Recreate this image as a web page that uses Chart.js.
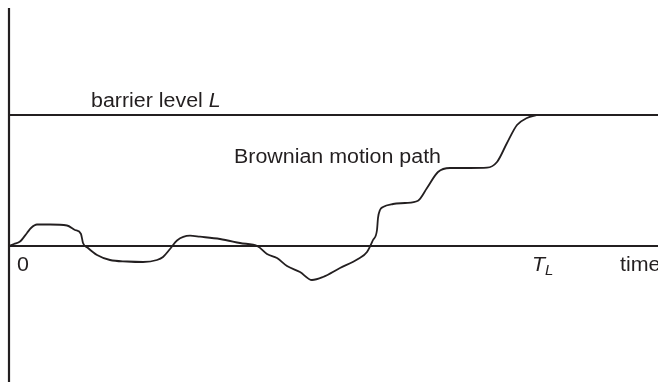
<!DOCTYPE html>
<html>
<head>
<meta charset="utf-8">
<script src="https://cdn.jsdelivr.net/npm/chart.js@4"></script>
<style>
  html, body { margin: 0; padding: 0; background: #fff; }
  canvas { display: block; }
</style>
</head>
<body>
<canvas id="c" width="658" height="382"></canvas>
<script>
// Sample path of a Brownian motion started at 0, stopped when it first hits the barrier L
const pathTime = [0, 5, 11, 18, 22, 28, 41, 58, 66, 72, 74, 79, 88, 101, 118, 134, 148, 154, 161, 168,
  181, 191, 211, 231, 249, 258, 268, 278, 291, 303, 314, 331, 349, 358, 364, 368, 369, 371, 374, 384,
  396, 409, 418, 429, 441, 461, 478, 488, 498, 508, 518, 528];
const pathValue = [0, 2, 4.5, 13, 18, 21.5, 21.5, 20.5, 16, 12, 3, -2, -9, -14, -15.5, -16, -14, -11, -3, 5.5,
  10.3, 9.3, 7, 3, -0.5, -8, -12, -20, -26, -34, -31, -22, -13, -6, 6, 16, 28, 36, 39, 42,
  43, 45.3, 58, 74, 78, 78, 78.3, 84, 103, 121, 128, 131];
const barrierLevel = 131;
const hittingTime = 528;   // T_L
const timeRange = [-9, 649];
const valueRange = [-136, 246];
const timeLabel = 'time';
const originLabel = '0';

const ink = '#231f20';
const FONT = '"Liberation Sans", Arial, Helvetica, sans-serif';
const STRETCH = 1.07;   // slightly wide lettering

const pathPoints = pathTime.map((t, i) => ({ x: t, y: pathValue[i] }));
const barrierPoints = [{ x: 0, y: barrierLevel }, { x: timeRange[1], y: barrierLevel }];

// Draws a run of [text, font, dy] pieces starting at (x, y)
function drawRuns(ctx, runs, x, y) {
  ctx.save();
  ctx.translate(x, y);
  ctx.scale(STRETCH, 1);
  let cx = 0;
  for (const [txt, font, dy] of runs) {
    ctx.font = font;
    ctx.fillText(txt, cx, dy || 0);
    cx += ctx.measureText(txt).width;
  }
  ctx.restore();
}

// Axes through the origin and the annotation texts
const annotate = {
  id: 'annotate',
  beforeDatasetsDraw(chart) {
    const { ctx, scales: { x, y } } = chart;
    const x0 = x.getPixelForValue(0);
    const y0 = y.getPixelForValue(0);
    ctx.save();
    ctx.strokeStyle = ink;
    ctx.lineWidth = 2.2;
    ctx.beginPath();
    ctx.moveTo(x0, 8);
    ctx.lineTo(x0, chart.height);
    ctx.moveTo(x0, y0);
    ctx.lineTo(chart.width, y0);
    ctx.stroke();
    ctx.restore();
  },
  afterDatasetsDraw(chart) {
    const { ctx, scales: { x, y } } = chart;
    const y0 = y.getPixelForValue(0);
    const yL = y.getPixelForValue(barrierLevel);
    ctx.save();
    ctx.fillStyle = ink;
    ctx.textBaseline = 'alphabetic';
    ctx.textAlign = 'left';
    const up = '20px ' + FONT;
    const it = 'italic 20px ' + FONT;

    drawRuns(ctx, [['barrier level ', up], ['L', it]], 91, yL - 8);
    drawRuns(ctx, [['Brownian motion path', up]], 234, 163);

    const yt = y0 + 25;
    drawRuns(ctx, [[originLabel, up]], x.getPixelForValue(0) + 8, yt);
    drawRuns(ctx, [[timeLabel, up]], 620, yt);
    drawRuns(ctx, [['T', it], ['L', 'italic 14px ' + FONT, 4]], x.getPixelForValue(hittingTime) - 5, yt);
    ctx.restore();
  }
};

new Chart(document.getElementById('c'), {
  type: 'line',
  data: {
    datasets: [
      {
        data: barrierPoints,
        borderColor: ink,
        borderWidth: 1.8,
        pointRadius: 0,
        tension: 0
      },
      {
        data: pathPoints,
        borderColor: ink,
        borderWidth: 1.8,
        pointRadius: 0,
        cubicInterpolationMode: 'monotone'
      }
    ]
  },
  options: {
    responsive: false,
    animation: false,
    layout: { padding: 0 },
    plugins: { legend: { display: false }, tooltip: { enabled: false } },
    scales: {
      x: { type: 'linear', min: timeRange[0], max: timeRange[1], display: false },
      y: { type: 'linear', min: valueRange[0], max: valueRange[1], display: false }
    }
  },
  plugins: [annotate]
});
</script>
</body>
</html>
